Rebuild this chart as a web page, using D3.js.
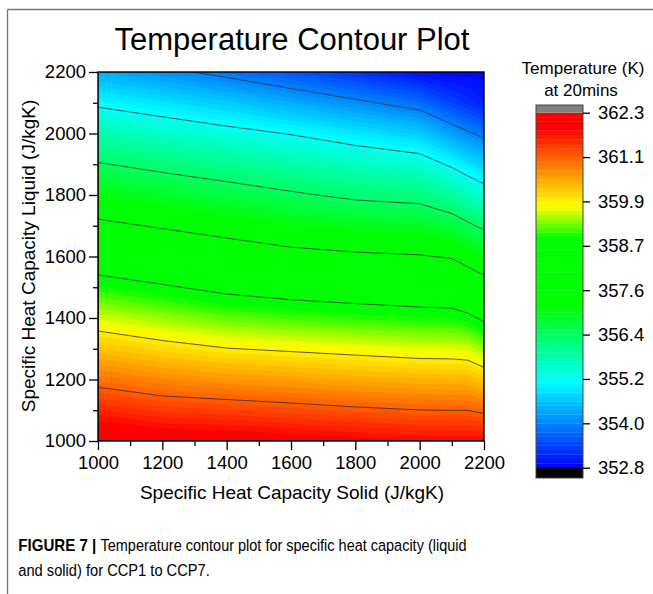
<!DOCTYPE html>
<html><head><meta charset="utf-8">
<script src="https://cdn.jsdelivr.net/npm/d3@7"></script>
<style>
body{margin:0;background:#fff}
svg{display:block}
text{font-family:"Liberation Sans",Arial,Helvetica,sans-serif;fill:#000}
</style>
</head><body>
<svg id="chart" width="653" height="594"></svg>
<script>
// ---------- data ----------
const solidCp  = [1000, 1200, 1400, 1600, 1800, 2000, 2100, 2150, 2200];          // x grid (J/kgK)
const liquidCp = [1000, 1100, 1200, 1300, 1400, 1500, 1600, 1700, 1800, 1900, 2000, 2100, 2200]; // y grid
// temperature (K) at 20 mins; one row per liquidCp value, columns follow solidCp
const temperature = [
  [362.25, 362.09, 362.07, 361.98, 361.90, 361.83, 361.82, 361.82, 361.83],
  [361.60, 361.42, 361.36, 361.28, 361.19, 361.12, 361.11, 361.11, 361.03],
  [360.95, 360.76, 360.65, 360.57, 360.48, 360.41, 360.40, 360.39, 360.24],
  [360.30, 360.10, 359.94, 359.86, 359.78, 359.70, 359.69, 359.65, 359.44],
  [359.65, 359.45, 359.26, 359.16, 359.07, 358.99, 358.97, 358.86, 358.64],
  [359.00, 358.80, 358.59, 358.45, 358.36, 358.28, 358.24, 358.07, 357.86],
  [358.34, 358.14, 357.94, 357.75, 357.65, 357.59, 357.50, 357.28, 357.06],
  [357.69, 357.49, 357.29, 357.09, 356.95, 356.87, 356.68, 356.46, 356.25],
  [357.04, 356.84, 356.64, 356.44, 356.25, 356.16, 355.88, 355.67, 355.46],
  [356.40, 356.19, 356.00, 355.80, 355.61, 355.45, 355.09, 354.87, 354.66],
  [355.74, 355.55, 355.35, 355.15, 354.90, 354.65, 354.24, 354.05, 353.86],
  [355.08, 354.86, 354.62, 354.35, 354.08, 353.78, 353.39, 353.22, 353.06],
  [354.36, 354.11, 353.85, 353.56, 353.25, 352.91, 352.85, 352.85, 352.85]
];
const xMajorTicks = [1000, 1200, 1400, 1600, 1800, 2000, 2200];
const xMinorTicks = [1100, 1300, 1500, 1700, 1900, 2100];
const yMajorTicks = [1000, 1200, 1400, 1600, 1800, 2000, 2200];
const yMinorTicks = [1100, 1300, 1500, 1700, 1900, 2100];
const colorbarTicks  = [352.8, 353.9875, 355.175, 356.3625, 357.55, 358.7375, 359.925, 361.1125, 362.3];
const colorbarLabels = ["352.8", "354.0", "355.2", "356.4", "357.6", "358.7", "359.9", "361.1", "362.3"];
const contourLineLevels = colorbarTicks.slice(1, -1);
const levelMin = 352.8, levelMax = 362.3, bandCount = 80;
const paletteStops  = [0, 0.242, 0.458, 0.647, 0.737, 0.957, 1];
const paletteColors = ["#0000ff", "#00ffff", "#00ff00", "#00ff00", "#ffff00", "#ff0000", "#ff0000"];

// ---------- setup ----------
const svg = d3.select("#chart");
const W = 653, H = 594;
const plot = {left: 98, right: 484, top: 72, bottom: 441};
const xScale = d3.scaleLinear().domain([1000, 2200]).range([plot.left, plot.right]);
const yScale = d3.scaleLinear().domain([1000, 2200]).range([plot.bottom, plot.top]);
const palette = d3.scaleLinear().domain(paletteStops).range(paletteColors).interpolate(d3.interpolateRgb);
const thresholds = d3.range(bandCount + 1).map(i => levelMin + i * (levelMax - levelMin) / bandCount);
const bandColor = k => palette((k + 0.5) / bandCount);

// outer frame (page border)
svg.append("line").attr("x1", 7.5).attr("y1", 9.5).attr("x2", W).attr("y2", 9.5)
  .attr("stroke", "#777").attr("stroke-width", 1.3);
svg.append("line").attr("x1", 7.5).attr("y1", 9.5).attr("x2", 7.5).attr("y2", H)
  .attr("stroke", "#777").attr("stroke-width", 1.3);

// title
svg.append("text").attr("x", 292).attr("y", 49.5).attr("text-anchor", "middle")
  .attr("font-size", 31).text("Temperature Contour Plot");

// ---------- contours ----------
const nx = solidCp.length, ny = liquidCp.length;
const values = [];
temperature.forEach(row => row.forEach(v => values.push(v)));
const colIdx = d3.scaleLinear().domain(d3.range(nx)).range(solidCp).clamp(true);
const rowIdx = d3.scaleLinear().domain(d3.range(ny)).range(liquidCp).clamp(true);
const proj = d3.geoTransform({
  point: function(x, y) { this.stream.point(xScale(colIdx(x - 0.5)), yScale(rowIdx(y - 0.5))); }
});
const path = d3.geoPath(proj);
const contourGen = d3.contours().size([nx, ny]);

svg.append("defs").append("clipPath").attr("id", "plotclip")
  .append("rect").attr("x", plot.left).attr("y", plot.top)
  .attr("width", plot.right - plot.left).attr("height", plot.bottom - plot.top);

const gPlot = svg.append("g").attr("clip-path", "url(#plotclip)");
const fills = contourGen.thresholds(thresholds.slice(0, bandCount))(values);
gPlot.selectAll("path.band").data(fills).join("path")
  .attr("class", "band")
  .attr("d", path)
  .attr("fill", (d, i) => bandColor(i))
  .attr("stroke", (d, i) => bandColor(i))
  .attr("stroke-width", 0.4);

const lines = d3.contours().size([nx, ny]).thresholds(contourLineLevels)(values);
gPlot.selectAll("path.iso").data(lines).join("path")
  .attr("class", "iso")
  .attr("d", path)
  .attr("fill", "none")
  .attr("stroke", "#2a2a2a")
  .attr("stroke-opacity", 0.85)
  .attr("stroke-width", 0.9);

// ---------- axes ----------
function styleAxis(g) {
  g.select(".domain").remove();
  g.selectAll(".tick line").attr("stroke", "#000").attr("stroke-width", 1.3);
  g.selectAll(".tick text").attr("font-size", 18.5).attr("fill", "#000")
    .attr("font-family", '"Liberation Sans",Arial,sans-serif');
}
svg.append("g").attr("transform", `translate(0,${plot.bottom})`)
  .call(d3.axisBottom(xScale).tickValues(xMajorTicks).tickSize(9).tickPadding(6).tickFormat(d3.format("d")))
  .call(styleAxis);
svg.append("g").attr("transform", `translate(0,${plot.bottom})`)
  .call(d3.axisBottom(xScale).tickValues(xMinorTicks).tickSize(5).tickFormat(""))
  .call(styleAxis);
svg.append("g").attr("transform", `translate(${plot.left},0)`)
  .call(d3.axisLeft(yScale).tickValues(yMajorTicks).tickSize(9).tickPadding(3).tickFormat(d3.format("d")))
  .call(styleAxis);
svg.append("g").attr("transform", `translate(${plot.left},0)`)
  .call(d3.axisLeft(yScale).tickValues(yMinorTicks).tickSize(5).tickFormat(""))
  .call(styleAxis);

svg.append("rect").attr("x", plot.left).attr("y", plot.top)
  .attr("width", plot.right - plot.left).attr("height", plot.bottom - plot.top)
  .attr("fill", "none").attr("stroke", "#000").attr("stroke-width", 1.4);

svg.append("text").attr("x", 292).attr("y", 498.5).attr("text-anchor", "middle")
  .attr("font-size", 19).text("Specific Heat Capacity Solid (J/kgK)");
svg.append("text").attr("transform", "translate(35,256) rotate(-90)").attr("text-anchor", "middle")
  .attr("font-size", 19).text("Specific Heat Capacity Liquid (J/kgK)");

// ---------- colour bar ----------
const cb = {left: 536, right: 583, top: 112.7, bottom: 467.7, capTop: 105, capBottom: 478};
const cbScale = d3.scaleLinear().domain([levelMin, levelMax]).range([cb.bottom, cb.top]);
const gCb = svg.append("g");
gCb.selectAll("rect.cbband").data(d3.range(bandCount)).join("rect")
  .attr("class", "cbband")
  .attr("x", cb.left).attr("width", cb.right - cb.left)
  .attr("y", k => cbScale(thresholds[k + 1]))
  .attr("height", k => cbScale(thresholds[k]) - cbScale(thresholds[k + 1]) + 0.3)
  .attr("fill", k => bandColor(k));
gCb.append("rect").attr("x", cb.left).attr("width", cb.right - cb.left)
  .attr("y", cb.capTop).attr("height", cb.top - cb.capTop).attr("fill", "#808080");
gCb.append("rect").attr("x", cb.left).attr("width", cb.right - cb.left)
  .attr("y", cb.bottom).attr("height", cb.capBottom - cb.bottom).attr("fill", "#000");
gCb.append("rect").attr("x", cb.left).attr("width", cb.right - cb.left)
  .attr("y", cb.capTop).attr("height", cb.capBottom - cb.capTop)
  .attr("fill", "none").attr("stroke", "#444").attr("stroke-width", 1);
svg.append("g").attr("transform", `translate(${cb.right},0)`)
  .call(d3.axisRight(cbScale).tickValues(colorbarTicks).tickSize(7).tickPadding(8)
    .tickFormat((d, i) => colorbarLabels[i]))
  .call(styleAxis);

svg.append("text").attr("x", 583).attr("y", 73.5).attr("text-anchor", "middle")
  .attr("font-size", 17).text("Temperature (K)");
svg.append("text").attr("x", 581).attr("y", 95.5).attr("text-anchor", "middle")
  .attr("font-size", 17).text("at 20mins");

// ---------- caption ----------
svg.append("text").attr("x", 18.3).attr("y", 551).attr("font-size", 16.3)
  .attr("font-weight", "bold").attr("fill", "#1a1a1a")
  .attr("textLength", 78).attr("lengthAdjust", "spacingAndGlyphs").text("FIGURE 7 |");
svg.append("text").attr("x", 100.5).attr("y", 551).attr("font-size", 16.3)
  .attr("fill", "#2b2b2b")
  .attr("textLength", 366).attr("lengthAdjust", "spacingAndGlyphs")
  .text("Temperature contour plot for specific heat capacity (liquid");
svg.append("text").attr("x", 18.3).attr("y", 576).attr("font-size", 16.3)
  .attr("fill", "#2b2b2b")
  .attr("textLength", 191.5).attr("lengthAdjust", "spacingAndGlyphs")
  .text("and solid) for CCP1 to CCP7.");
</script>
</body></html>
